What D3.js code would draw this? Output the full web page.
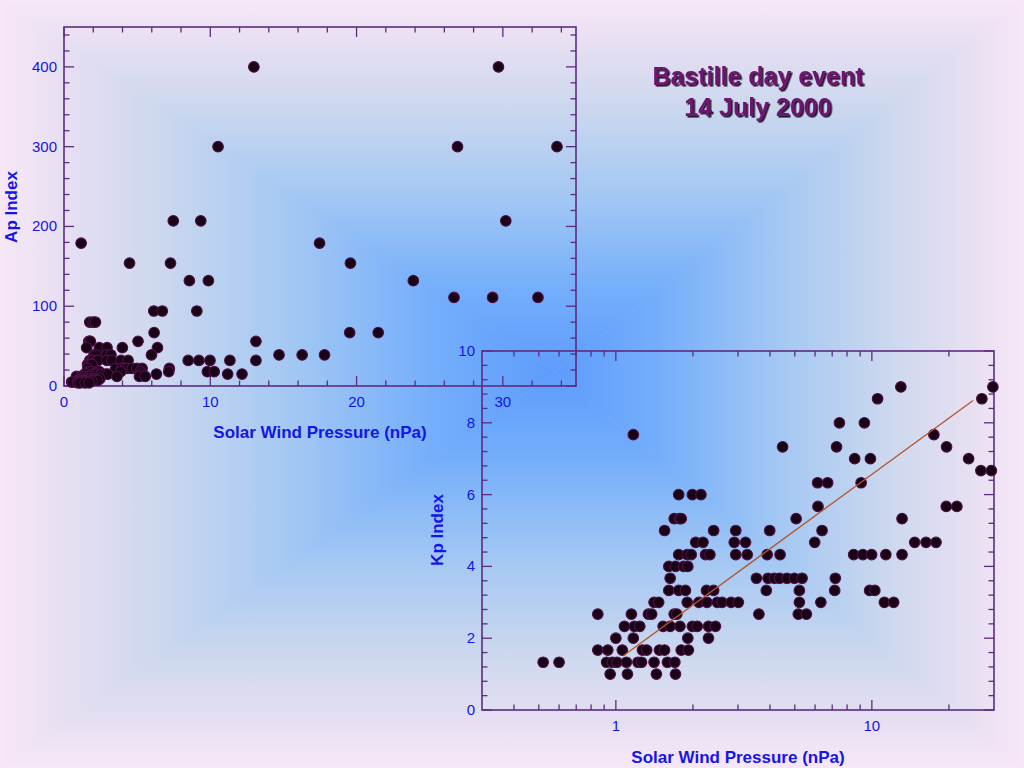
<!DOCTYPE html>
<html><head><meta charset="utf-8">
<script src="https://cdn.jsdelivr.net/npm/d3@7"></script>
<style>html,body{margin:0;padding:0;overflow:hidden;background:#f4e4f4}</style>
</head><body>
<svg id="c" width="1024" height="768"></svg>
<script>
// ---- data ----
// Kp rows and their matching Ap values
const kpLevels = [9, 8.67, 8, 7.67, 7.33, 7, 6.67, 6.33, 6, 5.67, 5.33, 5, 4.67, 4.33, 4, 3.67, 3.33, 3, 2.67, 2.33, 2, 1.67, 1.33, 1];
const apLevels = [400, 300, 207, 179, 154, 132, 111, 94, 80, 67, 56, 48, 39, 32, 27, 22, 18, 15, 12, 9, 7, 6, 5, 4];
// solar wind pressure (nPa) of the samples in each row
const pressureRows = [
  [12.98, 29.7],
  [10.53, 26.9, 33.7],
  [7.47, 9.35, 30.2],
  [1.17, 17.47],
  [4.48, 7.28, 19.58],
  [8.57, 9.87, 23.88],
  [26.66, 29.3, 32.4],
  [6.14, 6.72, 9.08],
  [1.76, 1.99, 2.15],
  [6.16, 19.53, 21.48],
  [1.69, 1.77, 1.80, 5.06, 13.12],
  [1.55, 2.41, 2.94, 3.99, 6.39],
  [2.05, 2.19, 2.90, 3.21, 5.98, 14.7, 16.28, 17.81],
  [1.76, 1.90, 1.97, 2.24, 2.33, 2.94, 3.26, 3.90, 4.38, 8.49, 9.22, 9.98, 11.34, 13.12],
  [1.61, 1.71, 1.84, 1.91],
  [1.63, 3.54, 3.93, 4.16, 4.36, 4.66, 4.98, 5.34, 7.20],
  [1.61, 1.76, 1.87, 2.26, 2.41, 3.87, 5.21, 7.16, 9.80, 10.27],
  [1.41, 1.47, 1.90, 2.11, 2.27, 2.49, 2.60, 2.82, 3.01, 5.21, 6.32, 11.19, 12.17],
  [0.85, 1.15, 1.34, 1.38, 1.69, 1.73, 3.62, 5.16, 5.55],
  [1.08, 1.18, 1.24, 1.53, 1.63, 1.78, 1.99, 2.08, 2.30, 2.45],
  [1.00, 1.17, 1.91, 2.30],
  [0.85, 0.93, 1.06, 1.27, 1.32, 1.48, 1.55, 1.80, 1.92],
  [0.52, 0.60, 0.92, 0.97, 1.01, 1.10, 1.22, 1.26, 1.41, 1.59, 1.70],
  [0.95, 1.11, 1.44, 1.71]
];
// regression line endpoints (Kp vs log pressure)
const fitPressure = [1.07, 24.85];
const fitKp = [1.51, 8.62];
// axes
const apYTicks = [0, 100, 200, 300, 400];
const apXTicks = [0, 10, 20, 30];
const kpYTicks = [0, 2, 4, 6, 8, 10];
const kpXTicks = [1, 10];
const titleLines = ["Bastille day event", "14 July 2000"];
const xTitle = "Solar Wind Pressure (nPa)";
const apTitle = "Ap Index";
const kpTitle = "Kp Index";

// ---- build sample table ----
const samples = [];
pressureRows.forEach((row, i) => row.forEach(p => samples.push({p: p, kp: kpLevels[i], ap: apLevels[i]})));

const svg = d3.select("#c");
const defs = svg.append("defs");

// ---- background: rectangular gradient from centre ----
const W = 1024, H = 768, cx = 555, cy = 372;
const stops = [[0, "#5e9cfc"], [0.22, "#74aefb"], [0.48, "#a4c8f3"], [0.72, "#cdd8ee"], [0.88, "#e6dff2"], [1, "#f7e7f7"]];
function grad(id, x1, y1, x2, y2) {
  const g = defs.append("linearGradient").attr("id", id).attr("gradientUnits", "userSpaceOnUse")
    .attr("x1", x1).attr("y1", y1).attr("x2", x2).attr("y2", y2);
  stops.forEach(s => g.append("stop").attr("offset", s[0]).attr("stop-color", s[1]));
}
grad("gL", cx, 0, 0, 0); grad("gR", cx, 0, W, 0); grad("gT", 0, cy, 0, 0); grad("gB", 0, cy, 0, H);
const bg = svg.append("g");
bg.append("polygon").attr("points", `${cx},${cy} 0,0 0,${H}`).attr("fill", "url(#gL)").attr("stroke", "url(#gL)").attr("stroke-width", 0.6);
bg.append("polygon").attr("points", `${cx},${cy} ${W},0 ${W},${H}`).attr("fill", "url(#gR)").attr("stroke", "url(#gR)").attr("stroke-width", 0.6);
bg.append("polygon").attr("points", `${cx},${cy} 0,0 ${W},0`).attr("fill", "url(#gT)").attr("stroke", "url(#gT)").attr("stroke-width", 0.6);
bg.append("polygon").attr("points", `${cx},${cy} 0,${H} ${W},${H}`).attr("fill", "url(#gB)").attr("stroke", "url(#gB)").attr("stroke-width", 0.6);

// drop shadow for the title
const f = defs.append("filter").attr("id", "shadow").attr("x", "-5%").attr("y", "-20%").attr("width", "115%").attr("height", "150%");
f.append("feDropShadow").attr("dx", 1.6).attr("dy", 1.6).attr("stdDeviation", 0.4).attr("flood-color", "#1e0820").attr("flood-opacity", 0.95);

const frameColor = "#5c2c7e";
const labelColor = "#1515e8";
const font = "'Liberation Sans', Arial, sans-serif";

function drawFrame(g, x, y, xMajor, xMinor, yMajor, yMinor, xFmt, yFmt) {
  const [x0, x1] = x.range(), [y0, y1] = y.range();
  const tk = g.append("g").attr("stroke", frameColor).attr("stroke-width", 1.3);
  const M = 10, m = 5.5;
  xMajor.forEach(v => { const px = x(v);
    tk.append("line").attr("x1", px).attr("x2", px).attr("y1", y0).attr("y2", y0 - M);
    tk.append("line").attr("x1", px).attr("x2", px).attr("y1", y1).attr("y2", y1 + M); });
  xMinor.forEach(v => { const px = x(v);
    tk.append("line").attr("x1", px).attr("x2", px).attr("y1", y0).attr("y2", y0 - m);
    tk.append("line").attr("x1", px).attr("x2", px).attr("y1", y1).attr("y2", y1 + m); });
  yMajor.forEach(v => { const py = y(v);
    tk.append("line").attr("y1", py).attr("y2", py).attr("x1", x0).attr("x2", x0 + M);
    tk.append("line").attr("y1", py).attr("y2", py).attr("x1", x1).attr("x2", x1 - M); });
  yMinor.forEach(v => { const py = y(v);
    tk.append("line").attr("y1", py).attr("y2", py).attr("x1", x0).attr("x2", x0 + m);
    tk.append("line").attr("y1", py).attr("y2", py).attr("x1", x1).attr("x2", x1 - m); });
  g.append("rect").attr("x", x0).attr("y", y1).attr("width", x1 - x0).attr("height", y0 - y1)
    .attr("fill", "none").attr("stroke", frameColor).attr("stroke-width", 1.6);
  g.selectAll(null).data(xMajor).enter().append("text")
    .attr("x", d => x(d)).attr("y", y0 + 21).attr("text-anchor", "middle")
    .attr("font-family", font).attr("font-size", 15).attr("fill", labelColor).text(xFmt);
  g.selectAll(null).data(yMajor).enter().append("text")
    .attr("x", x0 - 7).attr("y", d => y(d) + 5).attr("text-anchor", "end")
    .attr("font-family", font).attr("font-size", 15).attr("fill", labelColor).text(yFmt);
}

function drawDots(g, data, fx, fy) {
  g.selectAll(null).data(data).enter().append("circle")
    .attr("cx", fx).attr("cy", fy).attr("r", 5.3)
    .attr("fill", "#1b0316").attr("stroke", "#4e1048").attr("stroke-width", 1.1);
}

// ---- plot 1: Ap vs pressure ----
const x1 = d3.scaleLinear().domain([0, 35]).range([64, 576]);
const y1 = d3.scaleLinear().domain([0, 450]).range([386, 27]);
const g1 = svg.append("g");
drawFrame(g1, x1, y1, apXTicks, d3.range(2, 35, 2).filter(v => v % 10 !== 0),
  apYTicks, d3.range(20, 450, 20).filter(v => v % 100 !== 0), d => d, d => d);
drawDots(g1, samples.filter(d => d.p <= 35), d => x1(d.p), d => y1(d.ap));
g1.append("text").attr("x", 320).attr("y", 438).attr("text-anchor", "middle")
  .attr("font-family", font).attr("font-weight", "bold").attr("font-size", 17).attr("fill", labelColor).text(xTitle);
g1.append("text").attr("transform", "translate(17,207) rotate(-90)").attr("text-anchor", "middle")
  .attr("font-family", font).attr("font-weight", "bold").attr("font-size", 17).attr("fill", labelColor).text(apTitle);

// ---- plot 2: Kp vs pressure (log) ----
const x2 = d3.scaleLog().domain([0.3, 30]).range([482, 994]);
const y2 = d3.scaleLinear().domain([0, 10]).range([710, 351]);
const g2 = svg.append("g");
const kpXMinor = [0.4, 0.5, 0.6, 0.7, 0.8, 0.9, 2, 3, 4, 5, 6, 7, 8, 9, 20];
const kpYMinor = d3.range(1, 25).map(i => +(i * 0.4).toFixed(1)).filter(v => Math.abs(v / 2 - Math.round(v / 2)) > 1e-6);
drawFrame(g2, x2, y2, kpXTicks, kpXMinor, kpYTicks, kpYMinor, d => d, d => d);
drawDots(g2, samples.filter(d => d.p >= 0.3 && d.p <= 30), d => x2(d.p), d => y2(d.kp));
g2.append("line").attr("x1", x2(fitPressure[0])).attr("y1", y2(fitKp[0]))
  .attr("x2", x2(fitPressure[1])).attr("y2", y2(fitKp[1]))
  .attr("stroke", "#b8532c").attr("stroke-width", 1.3);
g2.append("text").attr("x", 738).attr("y", 763).attr("text-anchor", "middle")
  .attr("font-family", font).attr("font-weight", "bold").attr("font-size", 17).attr("fill", labelColor).text(xTitle);
g2.append("text").attr("transform", "translate(443,530) rotate(-90)").attr("text-anchor", "middle")
  .attr("font-family", font).attr("font-weight", "bold").attr("font-size", 17).attr("fill", labelColor).text(kpTitle);

// ---- title ----
const tg = svg.append("g").attr("font-family", font).attr("font-weight", "bold").attr("font-size", 25)
  .attr("text-anchor", "middle").attr("fill", "#6c1470").attr("filter", "url(#shadow)");
titleLines.forEach((t, i) => {
  tg.append("text").attr("x", 758).attr("y", 85 + i * 31).text(t);
});
</script>
</body></html>
